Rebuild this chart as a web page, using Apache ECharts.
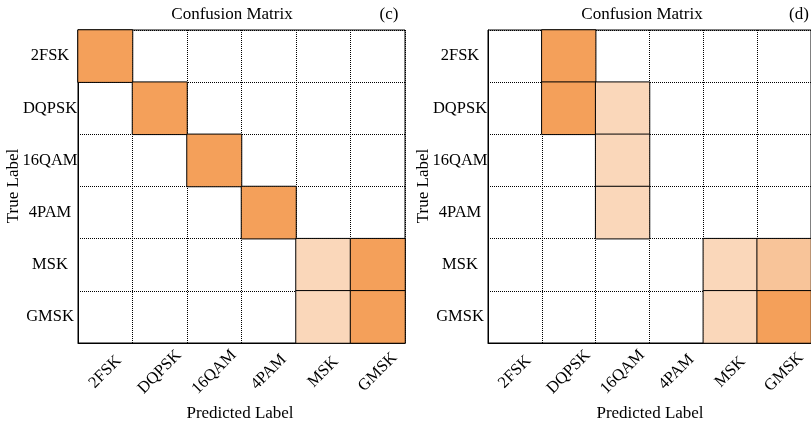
<!DOCTYPE html>
<html>
<head>
<meta charset="utf-8">
<script src="https://cdn.jsdelivr.net/npm/echarts@6/dist/echarts.min.js"></script>
<style>
html,body{margin:0;padding:0;background:#fff;}
#chart{width:811px;height:425px;}
</style>
</head>
<body>
<div id="chart"></div>
<script>
// Class labels (rows = true label, columns = predicted label)
const categories = ['2FSK', 'DQPSK', '16QAM', '4PAM', 'MSK', 'GMSK'];

// Panel (c) confusion matrix, estimated from the colours
const matrixC = [
  [1.00, 0, 0, 0, 0, 0],
  [0, 1.00, 0, 0, 0, 0],
  [0, 0, 1.00, 0, 0, 0],
  [0, 0, 0, 1.00, 0, 0],
  [0, 0, 0, 0, 0.25, 0.75],
  [0, 0, 0, 0, 0.25, 0.75]
];

// Panel (d) confusion matrix, estimated from the colours
const matrixD = [
  [0, 1.00, 0, 0, 0, 0],
  [0, 0.75, 0.25, 0, 0, 0],
  [0, 0, 0.25, 0, 0, 0],
  [0, 0, 0.25, 0, 0, 0],
  [0, 0, 0, 0, 0.25, 0.37],
  [0, 0, 0, 0, 0.25, 0.75]
];

const panelTitles = ['Confusion Matrix', 'Confusion Matrix'];
const panelTags = ['(c)', '(d)'];
const xName = 'Predicted Label';
const yName = 'True Label';

function toCells(m) {
  const out = [];
  m.forEach((row, r) => row.forEach((v, c) => { if (v > 0) out.push([c, r, v]); }));
  return out;
}

const FONT = "'Liberation Serif', 'Times New Roman', serif";
const grids = [
  { left: 78, top: 30, width: 327, height: 313 },
  { left: 488, top: 30, width: 327, height: 313 }
];

function xAxis(i) {
  return {
    type: 'category', gridIndex: i, data: categories,
    axisLine: { show: true, lineStyle: { color: '#000', width: 1 } },
    axisTick: { show: false },
    splitLine: { show: true, lineStyle: { color: '#000', type: [1, 1], width: 1 } },
    axisLabel: { rotate: 45, align: 'center', verticalAlign: 'middle', margin: 29,
      color: '#000', fontFamily: FONT, fontSize: 16.5, interval: 0 }
  };
}
function yAxis(i) {
  return {
    type: 'category', gridIndex: i, data: categories, inverse: true,
    axisLine: { show: true, lineStyle: { color: '#000', width: 1 } },
    axisTick: { show: false },
    splitLine: { show: true, lineStyle: { color: '#000', type: [1, 1], width: 1 } },
    axisLabel: { align: 'center', margin: 28, color: '#000', fontFamily: FONT, fontSize: 16.5, interval: 0 }
  };
}

function heat(i, m) {
  return {
    type: 'heatmap', xAxisIndex: i, yAxisIndex: i, data: toCells(m),
    itemStyle: { borderColor: '#000', borderWidth: 1 },
    emphasis: { disabled: true }
  };
}

function txt(x, y, s, rot) {
  return { type: 'text', x: x, y: y, rotation: rot || 0,
    style: { text: s, fill: '#000', font: '17px ' + FONT, textAlign: 'center', textVerticalAlign: 'middle' } };
}

const chart = echarts.init(document.getElementById('chart'));
chart.setOption({
  backgroundColor: '#fff',
  animation: false,
  grid: grids.map(g => Object.assign({ show: true, borderColor: '#000', borderWidth: 1, backgroundColor: 'transparent' }, g)),
  xAxis: [xAxis(0), xAxis(1)],
  yAxis: [yAxis(0), yAxis(1)],
  visualMap: [0, 1].map(i => ({
    type: 'continuous', show: false, seriesIndex: i, min: 0, max: 0.6,
    inRange: { color: ['#ffffff', '#F4A05A'] }
  })),
  series: [heat(0, matrixC), heat(1, matrixD)],
  graphic: [
    txt(232, 15, panelTitles[0]),
    txt(389, 15, panelTags[0]),
    txt(240, 414, xName),
    txt(14, 186, yName, Math.PI / 2),
    txt(642, 15, panelTitles[1]),
    txt(799, 15, panelTags[1]),
    txt(650, 414, xName),
    txt(424, 186, yName, Math.PI / 2)
  ]
});
</script>
</body>
</html>
